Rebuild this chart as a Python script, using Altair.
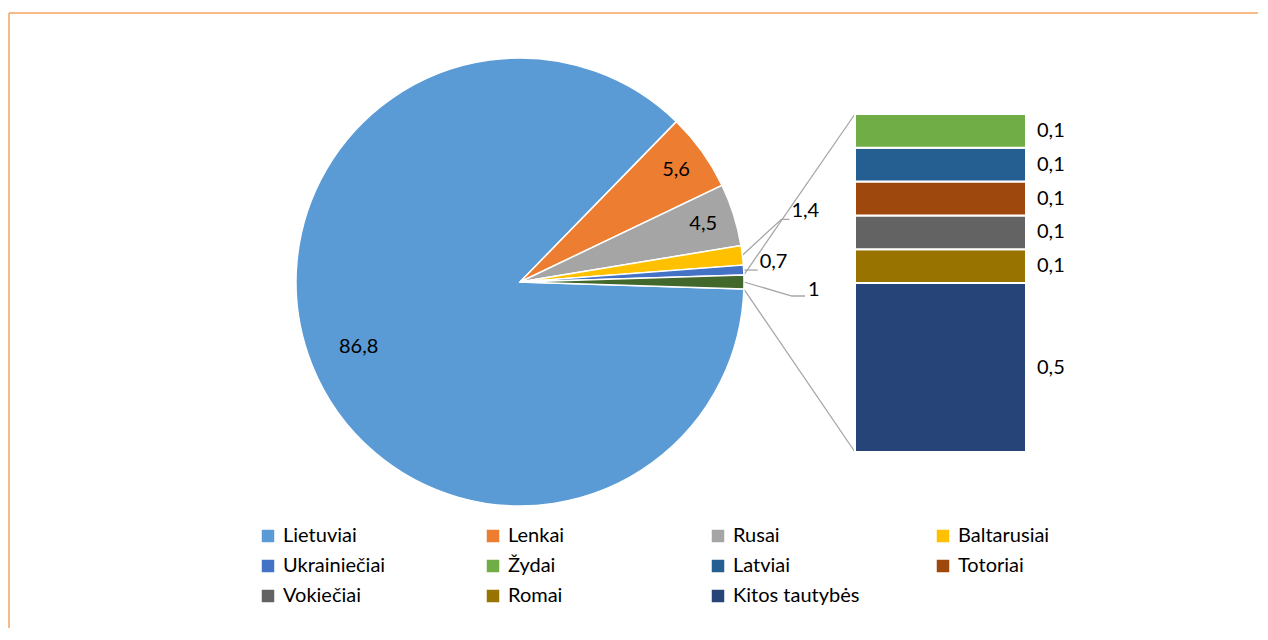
import math
import altair as alt
import pandas as pd

# ---------------- data ----------------
pie_names = ["Lietuviai", "Lenkai", "Rusai", "Baltarusiai", "Ukrainiečiai", "Kiti (suma)"]
pie_values = [86.8, 5.6, 4.5, 1.4, 0.7, 1]
pie_colors = ["#5B9BD5", "#ED7D31", "#A5A5A5", "#FFC000", "#4472C4", "#43682B"]

bar_names = ["Kitos tautybės", "Romai", "Vokiečiai", "Totoriai", "Latviai", "Žydai"]  # bottom -> top
bar_values = [0.5, 0.1, 0.1, 0.1, 0.1, 0.1]
bar_colors = ["#264478", "#997300", "#636363", "#9E480E", "#255E91", "#70AD47"]

legend_order = ["Lietuviai", "Lenkai", "Rusai", "Baltarusiai",
                "Ukrainiečiai", "Žydai", "Latviai", "Totoriai",
                "Vokiečiai", "Romai", "Kitos tautybės"]


def lt(v):
    return f"{v:g}".replace(".", ",")


# ---------------- layout ----------------
W, H = 1250, 620
CX, CY, R = 512, 274, 224
BX0, BX1 = 847, 1018
BY_BOTTOM, BY_TOP = 444, 106
FONT = "Lato"
FS = 20
GRAY = "#A6A6A6"

total = sum(pie_values)
a0 = math.pi / 2 + math.pi * pie_values[-1] / total
theta_scale = alt.Scale(domain=[0, total], range=[a0, a0 + 2 * math.pi])

inner_radius_for = {"Lietuviai": 174, "Lenkai": 192, "Rusai": 192}
pie_df = pd.DataFrame({
    "name": pie_names,
    "value": pie_values,
    "idx": list(range(len(pie_names))),
    "label": [lt(v) if n in inner_radius_for else "" for n, v in zip(pie_names, pie_values)],
    "r": [inner_radius_for.get(n, 0) for n in pie_names],
})

# slice angles (same geometry as theta scale) for annotations
starts, ends = [], []
acc = 0.0
for v in pie_values:
    starts.append(a0 + 2 * math.pi * acc / total)
    acc += v
    ends.append(a0 + 2 * math.pi * acc / total)


def polar(a, r):
    return CX + r * math.sin(a), CY - r * math.cos(a)


# leader lines: (dx, dy) to elbow, horizontal tail, label offset
leader_layout = {
    "Baltarusiai": (39, -36, 8, 2, -8.5),
    "Ukrainiečiai": (14, 0, 0, 2, -8.5),
    "Kiti (suma)": (48, 14, 13, 3, -6),
}
line_rows, lab_rows = [], []
for i, n in enumerate(pie_names):
    if n not in leader_layout:
        continue
    dx, dy, tail, lx, ly = leader_layout[n]
    mid = (starts[i] + ends[i]) / 2
    sx, sy = polar(mid, R)
    ex, ey = sx + dx, sy + dy
    pts = [(sx, sy), (ex, ey), (ex + tail, ey)]
    for k, (px, py) in enumerate(pts):
        line_rows.append({"line": n, "k": k, "px": px, "py": py})
    lab_rows.append({"px": ex + tail + lx, "py": ey + ly, "label": lt(pie_values[i])})

# connectors from "other" slice to bar
oi = len(pie_names) - 1
tx, ty = polar(starts[oi], R)
bx, by = polar(ends[oi], R)
line_rows += [
    {"line": "c1", "k": 0, "px": tx, "py": ty},
    {"line": "c1", "k": 1, "px": BX0, "py": BY_TOP},
    {"line": "c2", "k": 0, "px": bx, "py": by},
    {"line": "c2", "k": 1, "px": BX0, "py": BY_BOTTOM},
]
lines_df = pd.DataFrame(line_rows)
outer_df = pd.DataFrame(lab_rows)

bar_df = pd.DataFrame({
    "name": bar_names,
    "value": bar_values,
    "idx": list(range(len(bar_names))),
    "label": [lt(v) for v in bar_values],
})

all_names = pie_names + bar_names
all_colors = pie_colors + bar_colors

legend = alt.Legend(
    title=None, orient="none", legendX=250, legendY=518, columns=4, direction="horizontal",
    values=legend_order, symbolType="square", symbolSize=156,
    symbolStrokeWidth=0, labelFont=FONT, labelFontSize=FS, labelColor="black",
    labelOffset=5, gridAlign="all", columnPadding=73, rowPadding=10,
    labelLimit=400, padding=0,
)
color = alt.Color("name:N", scale=alt.Scale(domain=all_names, range=all_colors), legend=legend)

arcs = alt.Chart(pie_df).mark_arc(outerRadius=R, stroke="white", strokeWidth=1.5).encode(
    theta=alt.Theta("value:Q", stack=True, scale=theta_scale),
    order=alt.Order("idx:Q"),
    color=color,
    x=alt.value(CX), y=alt.value(CY),
)

inner_labels = alt.Chart(pie_df).transform_window(
    cum="sum(value)", sort=[alt.SortField("idx")], frame=[None, 0]
).transform_calculate(mid="datum.cum - datum.value / 2").mark_text(
    font=FONT, fontSize=FS, color="black"
).encode(
    theta=alt.Theta("mid:Q", stack=None, scale=theta_scale),
    radius=alt.Radius("r:Q", scale=None),
    text="label:N",
    x=alt.value(CX), y=alt.value(CY),
)

leaders = alt.Chart(lines_df).mark_line(color=GRAY, strokeWidth=1.3).encode(
    x=alt.X("px:Q", scale=None), y=alt.Y("py:Q", scale=None),
    detail="line:N", order="k:Q",
)

outer_labels = alt.Chart(outer_df).mark_text(
    font=FONT, fontSize=FS, color="black", align="left", baseline="middle"
).encode(x=alt.X("px:Q", scale=None), y=alt.Y("py:Q", scale=None), text="label:N")

ys = alt.Scale(domain=[0, sum(bar_values)], range=[BY_BOTTOM, BY_TOP])
bar_base = alt.Chart(bar_df).transform_window(
    cum="sum(value)", sort=[alt.SortField("idx")], frame=[None, 0]
).transform_calculate(start="datum.cum - datum.value", mid="datum.cum - datum.value / 2")

bars = bar_base.mark_bar(stroke="white", strokeWidth=2).encode(
    x=alt.value(BX0), x2=alt.value(BX1),
    y=alt.Y("start:Q", scale=ys, axis=None), y2="cum:Q",
    color=color,
)
bar_labels = bar_base.mark_text(
    font=FONT, fontSize=FS, color="black", align="left", baseline="middle"
).encode(x=alt.value(1029), y=alt.Y("mid:Q", scale=ys, axis=None), text="label:N")

frame_df = pd.DataFrame({"a": [0]})
border_left = alt.Chart(frame_df).mark_rule(color="#F4A460", strokeWidth=1.5).encode(
    x=alt.value(1), y=alt.value(5), y2=alt.value(H))
border_top = alt.Chart(frame_df).mark_rule(color="#F4A460", strokeWidth=1.5).encode(
    x=alt.value(1), x2=alt.value(W), y=alt.value(5))

chart = alt.layer(
    border_left, border_top, leaders, arcs, inner_labels, outer_labels, bars, bar_labels
).resolve_scale(x="independent", y="independent").properties(
    width=W, height=H, padding=0, autosize=alt.AutoSizeParams(type="none"),
    background="white",
).configure_view(stroke=None)

chart.save("out.html", embed_options={"renderer": "svg", "actions": False})
